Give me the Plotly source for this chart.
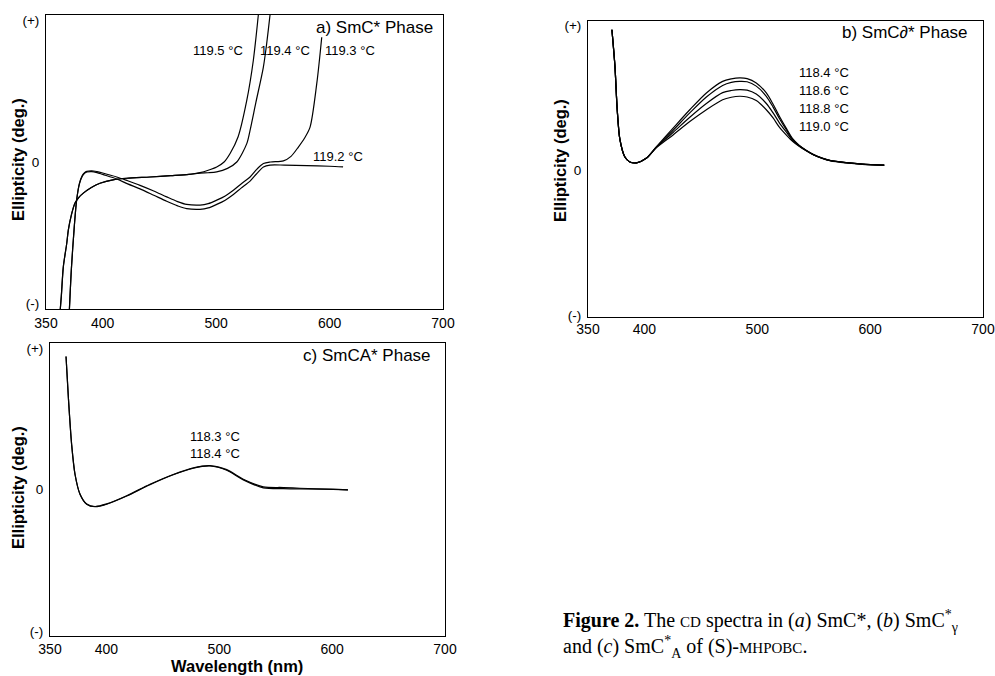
import plotly.graph_objects as go

W, H = 995, 676

# ---------------- Panel a) SmC* Phase ----------------
a_labels = ["119.5 °C", "119.4 °C", "119.3 °C", "119.2 °C"]
a_1195_wl = [362, 363.5, 365.3, 368.3, 369.7, 372.5, 375.6, 379, 382.9, 390, 397.6, 410, 421.2, 441.7, 460,
             476, 485.8, 493, 500.5, 507, 512.3, 519.3, 527, 532.8, 537.2, 538]
a_1195_el = [-1.1, -0.95, -0.74, -0.575, -0.48, -0.37, -0.29, -0.25, -0.22, -0.18, -0.15, -0.125, -0.115, -0.106,
             -0.097, -0.088, -0.075, -0.058, -0.035, 0.0, 0.06, 0.177, 0.436, 0.72, 1.04, 1.1]
a_1194_wl = [362, 363.5, 365.3, 368.3, 369.7, 372.5, 375.6, 379, 382.9, 390, 397.6, 410, 421.2, 441.7, 460,
             476, 485.8, 493, 500.5, 510, 518.2, 527, 529.9, 535, 541.6, 544.6, 547.5, 548.5]
a_1194_el = [-1.1, -0.95, -0.74, -0.575, -0.48, -0.37, -0.29, -0.25, -0.22, -0.18, -0.15, -0.125, -0.115, -0.106,
             -0.097, -0.088, -0.078, -0.076, -0.07, -0.045, 0.0, 0.13, 0.224, 0.42, 0.67, 0.84, 1.04, 1.1]
a_1193_wl = [370.3, 372.5, 375, 377, 379.5, 382, 384, 386, 390.3, 395, 400, 412.3, 422, 432.9, 445, 456.4, 466,
             474, 485.8, 493, 500.5, 508, 515.2, 522, 529.9, 536, 541.7, 548, 559.3, 566, 572.5, 578, 582.8,
             588.7, 593.1]
a_1193_el = [-1.1, -0.74, -0.45, -0.27, -0.15, -0.095, -0.075, -0.066, -0.062, -0.068, -0.078, -0.106, -0.133,
             -0.165, -0.205, -0.247, -0.28, -0.3, -0.305, -0.295, -0.27, -0.24, -0.2, -0.155, -0.106, -0.05,
             -0.011, 0.0, 0.008, 0.04, 0.106, 0.17, 0.247, 0.554, 0.883]
a_1192_wl = [370.3, 372.5, 375, 377, 379.5, 382, 384, 386, 390.3, 395, 400, 412.3, 422, 432.9, 445, 456.4, 466,
             474, 485.8, 493, 500.5, 508, 515.2, 522, 529.9, 536, 541.7, 547.5, 560, 580, 600, 611.9]
a_1192_el = [-1.1, -0.74, -0.45, -0.27, -0.155, -0.1, -0.08, -0.071, -0.068, -0.075, -0.088, -0.12, -0.155,
             -0.19, -0.235, -0.278, -0.31, -0.33, -0.335, -0.325, -0.3, -0.27, -0.23, -0.185, -0.135, -0.08,
             -0.035, -0.022, -0.022, -0.026, -0.03, -0.035]

# ---------------- Panel b) SmCγ* Phase ----------------
b_labels = ["118.4 °C", "118.6 °C", "118.8 °C", "119.0 °C"]
b_wl = [371.2, 373.9, 375.9, 378.3, 382.7, 387.1, 393, 401.9, 410.7, 425.4, 440.2, 454.9, 469.3, 477, 484.3,
        491, 499.1, 508, 514, 519.7, 526, 531.5, 537, 543.3, 550, 557.7, 565, 578.7, 593, 612.5]
b_1184_el = [0.97, 0.715, 0.417, 0.21, 0.09, 0.056, 0.05, 0.083, 0.162, 0.29, 0.417, 0.533, 0.613, 0.63, 0.637,
             0.632, 0.602, 0.533, 0.455, 0.37, 0.285, 0.215, 0.172, 0.137, 0.107, 0.083, 0.066, 0.052, 0.042, 0.035]
b_1186_el = [0.97, 0.715, 0.417, 0.21, 0.09, 0.056, 0.05, 0.083, 0.16, 0.275, 0.395, 0.505, 0.585, 0.606, 0.613,
             0.61, 0.58, 0.51, 0.435, 0.355, 0.275, 0.21, 0.17, 0.136, 0.106, 0.082, 0.065, 0.051, 0.041, 0.034]
b_1188_el = [0.97, 0.715, 0.417, 0.21, 0.09, 0.056, 0.05, 0.083, 0.158, 0.26, 0.365, 0.46, 0.535, 0.55, 0.556,
             0.552, 0.525, 0.46, 0.395, 0.325, 0.26, 0.204, 0.168, 0.135, 0.105, 0.081, 0.065, 0.051, 0.041, 0.034]
b_1190_el = [0.97, 0.715, 0.417, 0.21, 0.09, 0.056, 0.05, 0.083, 0.155, 0.243, 0.335, 0.417, 0.486, 0.503, 0.51,
             0.505, 0.48, 0.417, 0.36, 0.295, 0.24, 0.197, 0.165, 0.133, 0.104, 0.08, 0.064, 0.05, 0.04, 0.033]

# ---------------- Panel c) SmCA* Phase ----------------
c_labels = ["118.3 °C", "118.4 °C"]
c_wl = [364.2, 366.2, 369.2, 372.2, 376.6, 382.5, 389.9, 400.2, 418, 438.6, 459.2, 477, 491.8, 506.6, 521.3,
        539, 556.7, 571.5, 600.8, 614]
c_1183_el = [0.94, 0.66, 0.315, 0.106, -0.033, -0.102, -0.12, -0.102, -0.044, 0.037, 0.106, 0.153, 0.169,
             0.14, 0.072, 0.019, 0.014, 0.009, 0.002, -0.002]
c_1184_el = [0.94, 0.66, 0.315, 0.106, -0.033, -0.104, -0.122, -0.104, -0.046, 0.034, 0.104, 0.15, 0.166,
             0.136, 0.068, 0.012, 0.006, 0.004, 0.0, -0.002]

x_tickvals = [350, 400, 500, 600, 700]
y_tickvals = [-1, 0, 1]
y_ticktext = ["(-)", "0", "(+)"]

SANS = "Liberation Sans, Arial, Helvetica, sans-serif"
SERIF = "Liberation Serif, Times New Roman, serif"


def dx(a, b):
    return [a / W, b / W]


def dy(top, bottom):
    return [1 - bottom / H, 1 - top / H]


fig = go.Figure()

line = dict(color="black", width=1.2, shape="spline", smoothing=0.8)
for wl, el in [(a_1195_wl, a_1195_el), (a_1194_wl, a_1194_el), (a_1193_wl, a_1193_el), (a_1192_wl, a_1192_el)]:
    fig.add_trace(go.Scatter(x=wl, y=el, mode="lines", line=line, xaxis="x", yaxis="y", showlegend=False))
for el in [b_1184_el, b_1186_el, b_1188_el, b_1190_el]:
    fig.add_trace(go.Scatter(x=b_wl, y=el, mode="lines", line=line, xaxis="x2", yaxis="y2", showlegend=False))
for el in [c_1183_el, c_1184_el]:
    fig.add_trace(go.Scatter(x=c_wl, y=el, mode="lines", line=line, xaxis="x3", yaxis="y3", showlegend=False))


def xax(domain, anchor, standoff):
    return dict(domain=domain, anchor=anchor, range=[350, 700], tickvals=x_tickvals, automargin=False,
                showline=True, mirror=True, linecolor="black", linewidth=1, showgrid=False, zeroline=False,
                ticks="", ticklabelstandoff=standoff, tickfont=dict(family=SANS, size=14, color="black"))


def yax(domain, anchor, rng):
    return dict(domain=domain, anchor=anchor, range=rng, tickvals=y_tickvals, ticktext=y_ticktext,
                automargin=False,
                showline=True, mirror=True, linecolor="black", linewidth=1, showgrid=False, zeroline=False,
                ticks="", ticklabelstandoff=3, tickfont=dict(family=SANS, size=13.5, color="black"))


fig.update_layout(
    width=W, height=H, margin=dict(l=0, r=0, t=0, b=0, pad=0, autoexpand=False),
    paper_bgcolor="white", plot_bgcolor="white",
    font=dict(family=SANS, color="black"),
    xaxis=xax(dx(46, 443), "y", 1),
    yaxis=yax(dy(15, 309), "x", [-1.04, 1.04]),
    xaxis2=xax(dx(588, 983), "y2", -1),
    yaxis2=yax(dy(21, 317), "x2", [-1.015, 1.03]),
    xaxis3=xax(dx(50, 445), "y3", 0),
    yaxis3=yax(dy(343, 636), "x3", [-1.035, 1.035]),
)

ann = []


def txt(x, y, text, xref, yref, size=13, xanchor="center", **kw):
    ann.append(dict(x=x, y=y, xref=xref, yref=yref, text=text, showarrow=False, xanchor=xanchor,
                    yanchor="middle", font=dict(family=kw.pop("family", SANS), size=size, color="black"), **kw))


# panel a
txt(693, 0.95, "a) SmC* Phase", "x", "y", size=17, xanchor="right")
txt(501.7, 0.79, a_labels[0], "x", "y")
txt(560.8, 0.79, a_labels[1], "x", "y")
txt(618, 0.79, a_labels[2], "x", "y")
txt(607.5, 0.04, a_labels[3], "x", "y")
# panel b
txt(688.5, 0.95, "b) SmC\u2202* Phase", "x2", "y2", size=17, xanchor="right")
for lab, yv in zip(b_labels, [0.674, 0.55, 0.424, 0.3]):
    txt(559.5, yv, lab, "x2", "y2")
# panel c
txt(689.4, 0.95, "c) SmCA* Phase", "x3", "y3", size=17, xanchor="right")
txt(496.2, 0.375, c_labels[0], "x3", "y3")
txt(496.2, 0.257, c_labels[1], "x3", "y3")

# axis titles
for px, py in [(18, 160), (560, 161), (18, 488)]:
    txt(px / W, 1 - py / H, "<b>Ellipticity (deg.)</b>", "paper", "paper", size=16.5, textangle=-90)
txt(237 / W, 1 - 666 / H, "<b>Wavelength (nm)</b>", "paper", "paper", size=16.5)

# caption (one text block, two lines)
sc = "<span style='font-size:15px'>"
txt(561 / W, 1 - 634 / H,
    "<b>Figure 2.</b> The " + sc + "CD</span> spectra in (<i>a</i>) SmC*, (<i>b</i>) SmC<sup>*</sup><sub>γ</sub>"
    "<br>and (<i>c</i>) SmC<sup>*</sup><sub>A</sub> of (S)-" + sc + "MHPOBC</span>.",
    "paper", "paper", size=20, xanchor="left", family=SERIF, align="left")

fig.update_layout(annotations=ann)
fig.write_html("out.html", config={"displayModeBar": False},
               post_script="document.body.style.margin='0';document.body.style.overflow='hidden';")
